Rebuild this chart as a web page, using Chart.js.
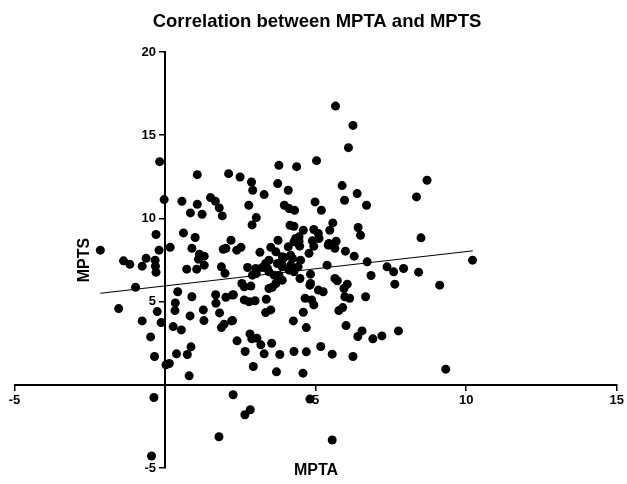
<!DOCTYPE html>
<html>
<head>
<meta charset="utf-8">
<title>Correlation between MPTA and MPTS</title>
<script src="https://cdn.jsdelivr.net/npm/chart.js@4.4.1/dist/chart.umd.min.js"></script>
<style>
  html, body { margin: 0; padding: 0; background: #fff; }
  #wrap { width: 627px; height: 484px; }
</style>
</head>
<body>
<div id="wrap"><canvas id="corrChart" width="627" height="484"></canvas></div>
<script>
// values (MPTA on x, MPTS on y)
let mpta = [
  -0.18, 1.07, 2.11, 2.49, -0.03, 0.56, 1.07, 1.51, 1.67, 1.80,
  1.90, 0.84, 1.23, -0.30, 0.61, 1.00, -2.15, -0.20, 0.17, 0.89,
  1.14, 1.30, 1.11, -1.38, -1.17, -0.76, -0.63, -0.33, -0.32, 0.72,
  1.05, 2.02, 2.19, 1.93, 2.38, 1.87, -0.30, 1.30, 1.99, -0.98,
  0.42, 0.89, 1.68, 2.02, 2.27, -1.54, 0.34, 0.33, -0.26, 1.27,
  1.69, 1.81, 0.83, 1.29, -0.76, -0.13, 0.27, 0.54, 1.87, 1.96,
  2.21, -0.48, 2.39, 0.86, -0.35, 0.38, 0.74, 0.03, 0.14, 0.80,
  6.09, 3.78, 4.37, 5.03, 2.87, 2.91, 3.29, 3.74, 4.09, 5.88,
  6.38, 5.96, 6.69, 2.78, 3.96, 4.12, 4.30, 4.98, 5.19, 3.03,
  2.89, 4.15, 4.28, 4.59, 4.94, 5.09, 5.57, 5.47, 6.41, 6.49,
  3.75, 4.34, 4.45, 4.28, 4.89, 5.11, 5.68, 2.52, 3.15, 3.51,
  3.68, 4.09, 4.47, 4.94, 5.42, 5.64, 4.78, 4.17, 3.95, 5.99,
  6.28, 6.71, 5.38, 3.45, 3.73, 3.23, 2.74, 4.17, 4.42, 7.37,
  7.92, 3.01, 2.90, 3.89, 3.40, 3.78, 3.68, 3.45, 4.48, 4.83,
  7.59, 6.84, 7.63, 2.55, 2.63, 2.85, 2.24, 4.81, 5.09, 5.25,
  5.64, 5.72, 6.05, 5.94, 5.97, 6.13, 6.66, 2.63, 2.79, 2.99,
  3.36, 4.65, 4.87, 4.94, 4.59, 3.34, 3.51, 5.77, 5.90, 2.24,
  4.26, 4.69, 6.01, 6.54, 6.40, 6.90, 7.20, 7.75, 2.82, 2.88,
  3.05, 3.18, 3.54, 2.66, 3.29, 3.81, 4.28, 4.69, 5.17, 5.55,
  6.24, 2.93, 3.70, 4.58, 8.42, 9.12, 9.32, 10.21, 8.70, 8.35,
  8.50, 5.66, 6.24, -0.37, 2.26, 4.81, 2.83, 2.65, 1.79, 5.55,
  -0.45, 4.45, 5.44, 3.89, 4.23, 3.34, 4.50, 3.87, 4.12, 4.28,
  3.03, 3.45, 3.62, 3.76, 3.89, 4.83, 3.56
];
let mpts = [
  13.41, 12.63, 12.69, 12.49, 11.13, 11.03, 10.85, 11.25, 11.03, 10.63,
  10.15, 10.33, 10.25, 9.03, 9.13, 8.85, 8.09, 8.09, 8.26, 8.20,
  7.85, 7.73, 7.55, 7.45, 7.24, 7.13, 7.60, 7.49, 7.13, 6.95,
  6.95, 8.20, 8.69, 8.14, 8.09, 7.09, 6.76, 7.19, 6.70, 5.86,
  5.59, 5.29, 5.41, 5.26, 5.41, 4.58, 4.92, 4.46, 4.40, 4.50,
  4.90, 4.32, 4.14, 3.86, 3.84, 3.74, 3.50, 3.30, 3.44, 3.64,
  3.84, 2.88, 2.64, 2.28, 1.70, 1.86, 1.82, 1.20, 1.28, 0.54,
  14.25, 13.19, 13.11, 13.47, 12.19, 11.69, 11.43, 12.09, 11.69, 11.97,
  11.49, 11.09, 10.79, 10.79, 10.79, 10.59, 10.49, 10.99, 10.49, 10.05,
  9.61, 9.59, 9.53, 9.29, 9.33, 9.09, 9.73, 9.29, 9.45, 8.99,
  8.69, 8.79, 8.63, 8.59, 8.65, 8.79, 8.63, 8.26, 7.96, 8.26,
  7.99, 8.29, 8.33, 8.33, 8.39, 8.20, 7.90, 7.79, 7.65, 8.03,
  7.73, 7.39, 7.19, 7.49, 7.29, 7.05, 7.05, 7.19, 7.09, 7.09,
  6.99, 6.99, 6.59, 7.09, 6.99, 6.59, 6.09, 5.79, 6.39, 6.65,
  6.79, 6.57, 6.05, 6.09, 5.89, 5.93, 5.40, 5.99, 5.69, 5.59,
  6.39, 6.25, 6.05, 5.79, 5.29, 5.20, 5.29, 5.10, 4.99, 5.05,
  5.14, 5.20, 5.10, 4.80, 4.36, 4.34, 4.50, 4.46, 4.64, 3.86,
  3.84, 3.44, 3.56, 3.24, 2.90, 2.76, 2.94, 3.24, 3.06, 2.76,
  2.80, 2.40, 2.50, 2.00, 1.86, 1.82, 2.00, 1.98, 2.30, 1.84,
  1.70, 1.10, 0.78, 0.70, 6.77, 5.99, 0.94, 7.49, 12.29, 11.29,
  8.83, 16.75, 15.59, -0.76, -0.60, -0.86, -1.50, -1.80, -3.12, -3.32,
  -4.28, 8.89, 8.49, 7.69, 7.59, 7.29, 7.49, 7.29, 6.89, 6.79,
  6.69, 6.79, 6.59, 6.49, 6.29, 6.09, 5.86
];

// fitted line end points
let fitX = [-2.15, 10.22];
let fitY = [5.5, 8.05];

let xTicks = [-5, 0, 5, 10, 15];
let yTicks = [-5, 0, 5, 10, 15, 20];

let points = mpta.map((v, i) => ({ x: v, y: mpts[i] }));
let fitLine = fitX.map((v, i) => ({ x: v, y: fitY[i] }));

let fontFam = '"Liberation Sans", Arial, Helvetica, sans-serif';

// title + axis names drawn by hand so the axes can cross at 0
let labelsPlugin = {
  id: 'labels',
  afterDraw(chart) {
    let c = chart.ctx;
    c.save();
    c.fillStyle = '#000';
    c.textAlign = 'center';
    c.textBaseline = 'middle';
    c.font = 'bold 18.5px ' + fontFam;
    c.fillText('Correlation between MPTA and MPTS', 317, 22);
    c.font = 'bold 16px ' + fontFam;
    c.fillText('MPTA', 316, 471);
    c.translate(85, 260);
    c.rotate(-Math.PI / 2);
    c.fillText('MPTS', 0, 0);
    c.restore();
  }
};

let ctx = document.getElementById('corrChart').getContext('2d');

let corrChart = new Chart(ctx, {
  type: 'scatter',
  data: {
    datasets: [
      {
        label: 'MPTS vs MPTA',
        data: points,
        backgroundColor: '#000',
        borderWidth: 0,
        pointRadius: 4.5,
        pointHoverRadius: 4.5
      },
      {
        label: 'fit',
        data: fitLine,
        showLine: true,
        borderColor: '#000',
        borderWidth: 1,
        pointRadius: 0
      }
    ]
  },
  options: {
    responsive: false,
    animation: false,
    layout: { padding: { left: 14.5, right: 9, top: 52, bottom: 16 } },
    plugins: {
      legend: { display: false },
      title: { display: false },
      tooltip: { enabled: false }
    },
    scales: {
      x: {
        type: 'linear',
        position: { y: 0 },
        min: xTicks[0],
        max: xTicks[xTicks.length - 1],
        afterBuildTicks: (s) => { s.ticks = xTicks.map(v => ({ value: v })); },
        border: { display: true, color: '#000', width: 2 },
        grid: { drawOnChartArea: false, color: '#000', tickLength: 5, lineWidth: 1.5 },
        ticks: {
          color: '#000',
          padding: 3,
          font: { family: fontFam, size: 13, weight: 'bold' },
          callback: (v) => v === 0 ? '' : v
        }
      },
      y: {
        type: 'linear',
        position: { x: 0 },
        min: yTicks[0],
        max: yTicks[yTicks.length - 1],
        afterBuildTicks: (s) => { s.ticks = yTicks.map(v => ({ value: v })); },
        border: { display: true, color: '#000', width: 2 },
        grid: { drawOnChartArea: false, color: '#000', tickLength: 5, lineWidth: 1.5 },
        ticks: {
          color: '#000',
          padding: 3,
          font: { family: fontFam, size: 13, weight: 'bold' },
          // labels sit right-aligned on the axis here, trailing space pushes them clear of the tick
          callback: (v) => v === 0 ? '' : v + '\u2002\u2009'
        }
      }
    }
  },
  plugins: [labelsPlugin]
});
</script>
</body>
</html>
